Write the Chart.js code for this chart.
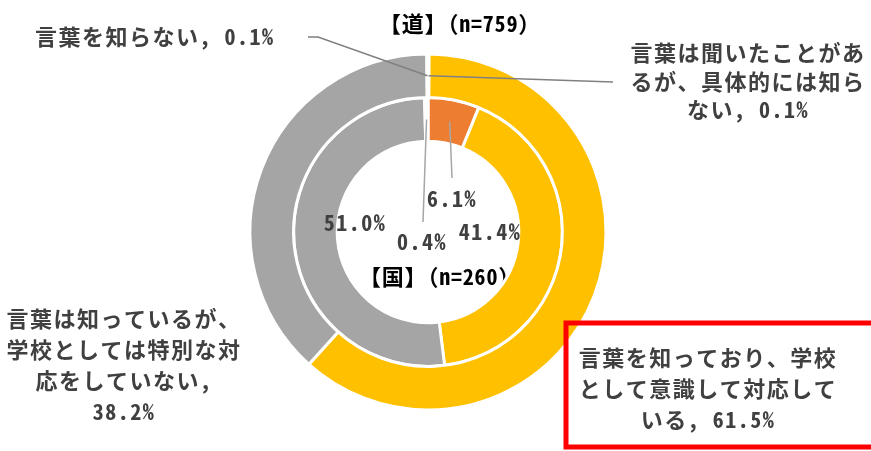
<!DOCTYPE html>
<html lang="ja">
<head>
<meta charset="utf-8">
<script src="https://cdn.jsdelivr.net/npm/chart.js@4.4.1/dist/chart.umd.min.js"></script>
<style>
html, body { margin: 0; padding: 0; background: #ffffff; }
#wrap { width: 871px; height: 451px; }
</style>
</head>
<body>
<div id="wrap"><canvas id="chart" width="871" height="451"></canvas></div>
<script>
'use strict';

// Categories (same order in both rings, clockwise from top)
const categories = [
    '言葉は聞いたことがあるが、具体的には知らない',
    '言葉を知っており、学校として意識して対応している',
    '言葉は知っているが、学校としては特別な対応をしていない',
    '言葉を知らない'
];

// Outer ring: 道, inner ring: 国 (percent)
const doValues = [0.1, 61.5, 38.2, 0.1];
const kuniValues = [6.1, 41.4, 51.0, 0.4];
const ringTitles = ['【道】（n=759）', '【国】（n=260）'];

// Styles
const sliceColors = ['#ED7D31', '#FFC000', '#A5A5A5', '#FFFFFF'];
const fontFamily = "'Noto Sans Mono CJK JP', 'Noto Sans CJK JP', sans-serif";
const textColor = '#404040';

// Label layout, offsets from the doughnut centre
const outerLabelLayout = [
    { dx: 320, dy: -179, align: 'center', lineH: 28.5, breaks: [10, 20], leader: [[185, -150]] },
    { dx: 280, dy: 126, align: 'center', lineH: 31, breaks: [11, 22] },
    { dx: -304, dy: 87, align: 'center', lineH: 31, breaks: [10, 20, 28] },
    { dx: -393, dy: -195, align: 'left', lineH: 0, breaks: [], leader: [[-110, -195], [-120, -195]] }
];
const innerLabelLayout = [
    { dx: 24, dy: -33, leader: [[24, -54]] },
    { dx: 62, dy: 0 },
    { dx: -73, dy: -9 },
    { dx: -6, dy: 10, leader: [[-5, -10]] }
];
const ringTitleLayout = [
    { dx: -49, dy: -208 },
    { dx: -69, dy: 45 }
];
const highlightBox = { x1: 138, y1: 91, x2: 447, y2: 215 };

// Format a value
function pct(v) {
    return v.toFixed(1) + '%';
}

// Split a label into lines
function splitLines(text, breaks) {
    let lines = [];
    let start = 0;
    for (let b of breaks) {
        lines.push(text.substring(start, b).trim());
        start = b;
    }
    lines.push(text.substring(start).trim());
    return lines;
}

// Mid point of an arc
function arcMid(arc) {
    let a = (arc.startAngle + arc.endAngle) / 2;
    let r = (arc.innerRadius + arc.outerRadius) / 2;
    return [arc.x + Math.cos(a) * r, arc.y + Math.sin(a) * r];
}

function setFont(ctx, weight, size, spacing) {
    ctx.font = weight + ' ' + size + 'px ' + fontFamily;
    if ('letterSpacing' in ctx) {
        ctx.letterSpacing = spacing + 'px';
    }
}

function drawLeader(ctx, start, cx, cy, points, color) {
    ctx.save();
    ctx.strokeStyle = color;
    ctx.lineWidth = 1.5;
    ctx.beginPath();
    ctx.moveTo(start[0], start[1]);
    for (let p of points) {
        ctx.lineTo(cx + p[0], cy + p[1]);
    }
    ctx.stroke();
    ctx.restore();
}

// Plugin for titles, labels and the red box
const labelPlugin = {
    id: 'labelPlugin',
    beforeDatasetsDraw(chart) {
        // Inner title sits under the rings
        let ctx = chart.ctx;
        let arc = chart.getDatasetMeta(0).data[0];
        ctx.save();
        setFont(ctx, 'bold', 22, 0.8);
        ctx.fillStyle = '#000000';
        ctx.textAlign = 'left';
        ctx.textBaseline = 'middle';
        ctx.fillText(ringTitles[1], arc.x + ringTitleLayout[1].dx, arc.y + ringTitleLayout[1].dy);
        ctx.restore();
    },
    afterDraw(chart) {
        let ctx = chart.ctx;
        let outerArcs = chart.getDatasetMeta(0).data;
        let innerArcs = chart.getDatasetMeta(1).data;
        let cx = outerArcs[0].x;
        let cy = outerArcs[0].y;

        ctx.save();

        // Outer title
        setFont(ctx, 'bold', 22, 0.8);
        ctx.fillStyle = '#000000';
        ctx.textAlign = 'left';
        ctx.textBaseline = 'middle';
        ctx.fillText(ringTitles[0], cx + ringTitleLayout[0].dx, cy + ringTitleLayout[0].dy);

        // Outer ring labels
        setFont(ctx, 'bold', 22, 1.5);
        ctx.fillStyle = textColor;
        outerLabelLayout.forEach((lay, i) => {
            if (lay.leader) {
                drawLeader(ctx, arcMid(outerArcs[i]), cx, cy, lay.leader, '#808080');
            }
            let text = categories[i] + ', ' + pct(doValues[i]);
            let lines = splitLines(text, lay.breaks);
            ctx.textAlign = lay.align;
            lines.forEach((line, j) => {
                ctx.fillText(line, cx + lay.dx, cy + lay.dy + j * lay.lineH);
            });
        });

        // Inner ring labels
        ctx.textAlign = 'center';
        innerLabelLayout.forEach((lay, i) => {
            if (lay.leader) {
                drawLeader(ctx, arcMid(innerArcs[i]), cx, cy, lay.leader, '#A6A6A6');
            }
            ctx.fillText(pct(kuniValues[i]), cx + lay.dx, cy + lay.dy);
        });

        // Red box
        ctx.strokeStyle = '#FF0000';
        ctx.lineWidth = 5;
        ctx.strokeRect(cx + highlightBox.x1, cy + highlightBox.y1,
            highlightBox.x2 - highlightBox.x1, highlightBox.y2 - highlightBox.y1);

        ctx.restore();
    }
};

// Build graph
let ctx = document.getElementById('chart').getContext('2d');
let chart = new Chart(ctx, {
    type: 'doughnut',
    data: {
        labels: categories,
        datasets: [{
            label: ringTitles[0],
            data: doValues,
            backgroundColor: sliceColors,
            borderColor: '#FFFFFF',
            borderWidth: 3,
            hoverOffset: 0
        }, {
            label: ringTitles[1],
            data: kuniValues,
            backgroundColor: sliceColors,
            borderColor: '#FFFFFF',
            borderWidth: 3,
            hoverOffset: 0
        }]
    },
    options: {
        responsive: false,
        animation: false,
        cutout: '51%',
        events: [],
        layout: {
            padding: { left: 248.5, right: 263.5, top: 52.5, bottom: 39.5 }
        },
        plugins: {
            legend: { display: false },
            tooltip: { enabled: false }
        }
    },
    plugins: [labelPlugin]
});
</script>
</body>
</html>
